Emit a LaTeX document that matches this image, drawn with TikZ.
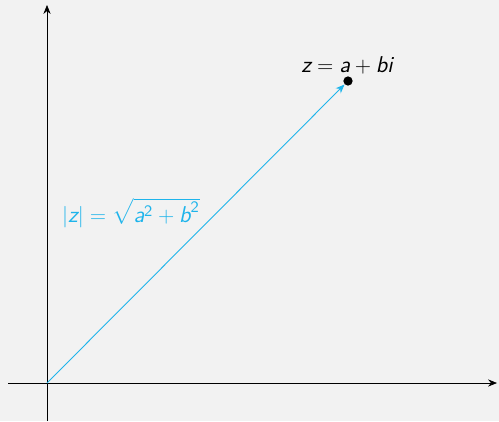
\documentclass[tikz,border=0pt]{standalone}
\usepackage{amsmath}
\usetikzlibrary{arrows.meta}
\definecolor{bgc}{RGB}{242,242,242}
\definecolor{vec}{RGB}{30,180,235}
\newcommand{\mv}[1]{\text{\sffamily\slshape #1}}
\newcommand{\mn}[1]{\text{\sffamily #1}}
\begin{document}
\begin{tikzpicture}[x=0.56pt,y=0.56pt,
  axis/.style={line width=0.4pt,black,-{Stealth[length=5pt,width=4pt]}},
  vecline/.style={line width=0.5pt,vec,-{Stealth[length=5pt,width=4pt]}},
  lbl/.style={font=\fontsize{12.8}{15}\selectfont}]
\fill[bgc] (0,0) rectangle (499,421);
\useasboundingbox (0,0) rectangle (499,421);
\coordinate (xs) at (8,38);
\coordinate (xe) at (497,38);
\coordinate (ys) at (47,0);
\coordinate (ye) at (47,416);
\coordinate (o) at (47,38);
\draw[axis] (xs) -- (xe);
\draw[axis] (ys) -- (ye);
\node[circle,fill=black,inner sep=0pt,minimum size=5.2pt] (p) at (348,340) {};
\draw[vecline] (o) -- (p);
\node[lbl,anchor=base] (zl) at (347,348) {$\mv{z} = \mv{a} + \mv{bi}$};
\node[lbl,text=vec] (ml) at (131,208) {$|\mv{z}| = \sqrt{\mv{a}^{\mn{2}} + \mv{b}^{\mn{2}}}$};
\end{tikzpicture}
\end{document}
